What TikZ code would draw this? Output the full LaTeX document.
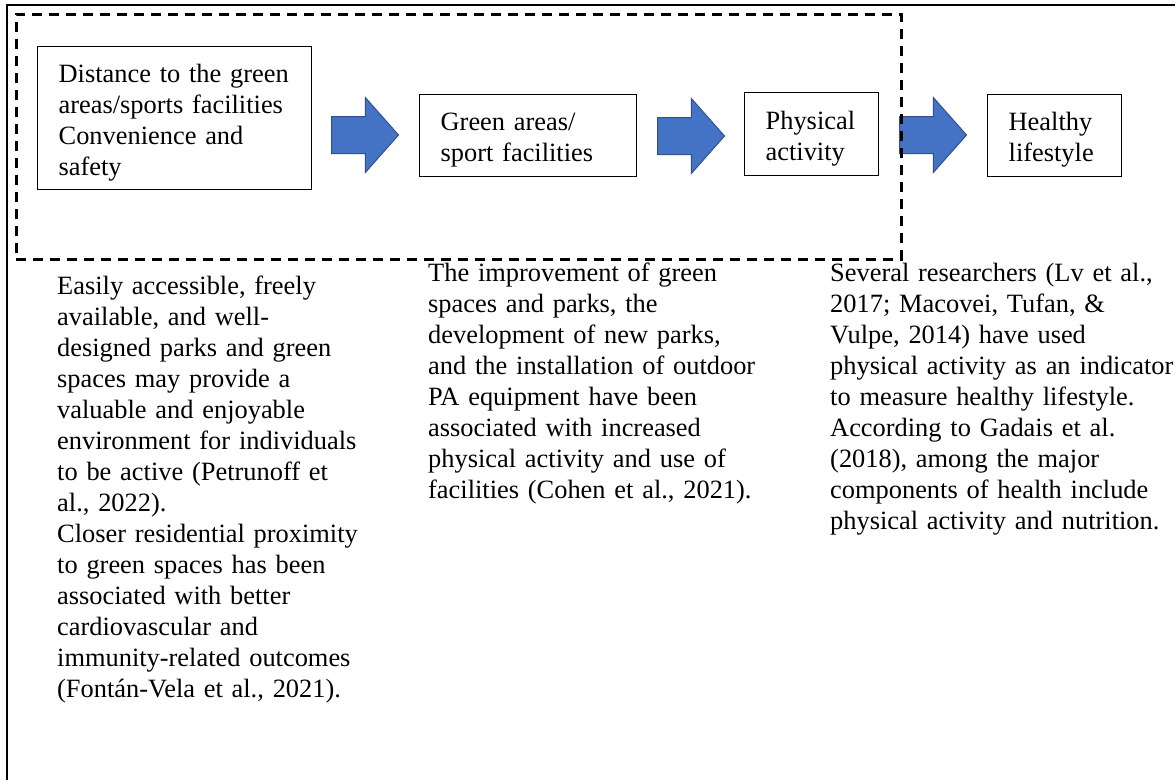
\documentclass[tikz,border=0pt]{standalone}
\usepackage{fontspec}
\setmainfont{Liberation Serif}
\usetikzlibrary{shapes.arrows}
\definecolor{arrowblue}{HTML}{4472C4}
\definecolor{arrowedge}{HTML}{2F528F}
\begin{document}
\begin{tikzpicture}[x=1pt,y=-1pt,
  txt/.style={font=\fontsize{26.4}{31}\selectfont},
  boxnode/.style={draw, line width=1.3pt, inner sep=0pt, inner xsep=21pt, align=left, anchor=north west, text height=27pt, txt},
  blockarrow/.style={single arrow, fill=arrowblue, draw=arrowedge, line width=1pt, inner sep=0pt, inner ysep=18pt, single arrow head extend=19pt, single arrow tip angle=97, minimum height=67pt, anchor=tail},
  note/.style={txt, align=left, inner sep=0pt, anchor=base west, text width=350pt},
  groupbox/.style={draw, line width=2.5pt, dash pattern=on 10pt off 7pt, inner sep=0pt, anchor=north west},
]
\useasboundingbox (0,0) rectangle (1175,780);
\fill[white] (0,0) rectangle (1175,780);

% boxes
\node[boxnode, minimum width=274pt, minimum height=143pt, text width=232pt] (b1) at (37,46)
  {Distance to the green\\areas/sports facilities\\Convenience and\\safety};
\node[boxnode, minimum width=217pt, minimum height=82pt, text width=175pt] (b2) at (419,94)
  {Green areas/\\sport facilities};
\node[boxnode, minimum width=134pt, minimum height=83pt, text width=92pt] (b3) at (744,92)
  {Physical\\activity};
\node[boxnode, minimum width=134pt, minimum height=82pt, text width=92pt] (b4) at (987,94)
  {Healthy\\lifestyle};

% block arrows
\node[blockarrow] (a1) at (331,135) {};
\node[blockarrow] (a2) at (657,136) {};
\node[blockarrow] (a3) at (899,135) {};

% dashed group
\node[groupbox, minimum width=885pt, minimum height=245pt] (grp) at (15,13) {};

% notes
\node[note] (t1) at (57,294)
  {Easily accessible, freely\\available, and well-\\designed parks and green\\spaces may provide a\\valuable and enjoyable\\environment for individuals\\to be active (Petrunoff et\\al., 2022).\\Closer residential proximity\\to green spaces has been\\associated with better\\cardiovascular and\\immunity-related outcomes\\(Fontán-Vela et al., 2021).};
\node[note] (t2) at (428,281)
  {The improvement of green\\spaces and parks, the\\development of new parks,\\and the installation of outdoor\\PA equipment have been\\associated with increased\\physical activity and use of\\facilities (Cohen et al., 2021).};
\node[note] (t3) at (830,281)
  {Several researchers (Lv et al.,\\2017; Macovei, Tufan, \&\\Vulpe, 2014) have used\\physical activity as an indicator\\to measure healthy lifestyle.\\According to Gadais et al.\\(2018), among the major\\components of health include\\physical activity and nutrition.};

% outer frame
\draw[line width=2pt] (1175,5) -- (7,5) -- (7,780);
\end{tikzpicture}
\end{document}
